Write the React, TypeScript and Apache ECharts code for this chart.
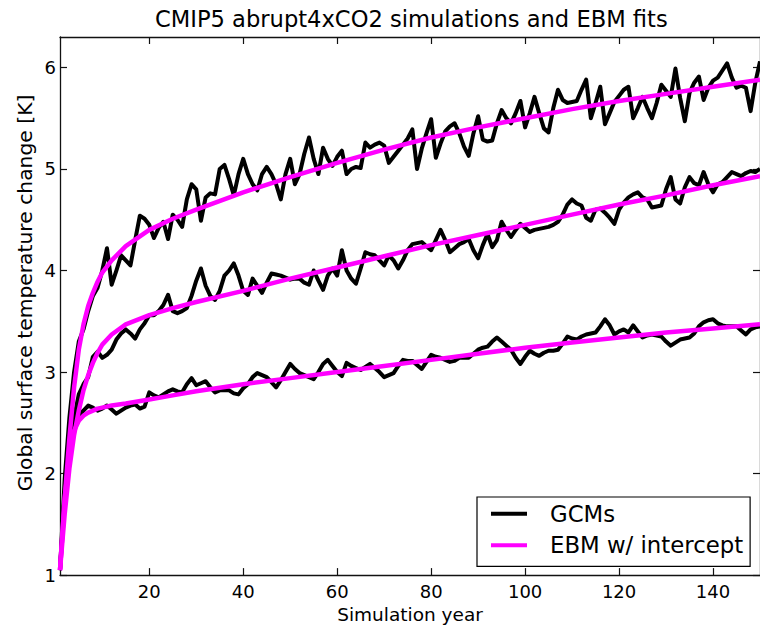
import React, { useEffect, useRef } from "react";
import * as echarts from "echarts";

const TITLE = "CMIP5 abrupt4xCO2 simulations and EBM fits";
const X_NAME = "Simulation year";
const Y_NAME = "Global surface temperature change [K]";
const X_TICKS = [20, 40, 60, 80, 100, 120, 140];
const Y_TICKS = [1, 2, 3, 4, 5, 6];

// GCM annual values, years 1..150
const gcmHigh = [
  1.05, 1.95, 2.55, 3.0, 3.3, 3.42, 3.6, 3.75, 3.83, 4.0,
  4.22, 3.86, 4.0, 4.15, 4.1, 4.05, 4.3, 4.54, 4.51, 4.45,
  4.32, 4.42, 4.48, 4.31, 4.55, 4.5, 4.43, 4.7, 4.85, 4.8,
  4.49, 4.72, 4.76, 4.75, 5.0, 5.04, 4.9, 4.74, 4.95, 5.1,
  4.95, 4.85, 4.79, 4.95, 5.02, 4.95, 4.85, 4.7, 4.95, 5.1,
  4.85, 4.95, 5.15, 5.31, 5.1, 4.95, 5.21, 5.1, 5.03, 5.12,
  5.18, 4.95, 5.0, 5.02, 5.01, 5.26, 5.21, 5.24, 5.26, 5.23,
  5.06, 5.12, 5.18, 5.24, 5.3, 5.39, 5.0, 5.2, 5.35, 5.49,
  5.11, 5.25, 5.37, 5.42, 5.45, 5.35, 5.22, 5.13, 5.35, 5.52,
  5.29, 5.27, 5.28, 5.45, 5.58, 5.5, 5.45, 5.55, 5.67, 5.41,
  5.55, 5.71, 5.55, 5.4, 5.36, 5.6, 5.78, 5.68, 5.65, 5.66,
  5.67, 5.78, 5.88, 5.5, 5.65, 5.81, 5.44, 5.55, 5.66, 5.72,
  5.78, 5.81, 5.5, 5.6, 5.71, 5.6, 5.5, 5.65, 5.83, 5.77,
  5.71, 5.99, 5.7, 5.47, 5.75, 5.85, 5.91, 5.68, 5.8, 5.87,
  5.9, 5.97, 6.04, 5.9, 5.8, 5.82, 5.8, 5.57, 5.85, 6.06,
];
const gcmMid = [
  1.05, 1.75, 2.2, 2.55, 2.78, 2.88, 2.95, 3.15, 3.2, 3.14,
  3.17, 3.22, 3.32, 3.38, 3.42, 3.38, 3.33, 3.42, 3.48, 3.56,
  3.56, 3.6, 3.66, 3.76, 3.6, 3.58, 3.6, 3.63, 3.75, 3.9,
  4.02, 3.85, 3.75, 3.71, 3.8, 3.95, 4.0, 4.07, 3.95, 3.8,
  3.76, 3.92, 3.85, 3.78, 3.88, 3.97, 3.96, 3.95, 3.93, 3.91,
  3.92, 3.92, 3.88, 3.86, 4.0, 3.9, 3.81, 3.95, 4.02, 3.95,
  4.2, 4.0, 3.92, 3.87, 4.02, 4.18, 4.16, 4.15, 4.1, 4.05,
  4.15, 4.1, 4.02, 4.1, 4.2, 4.26, 4.27, 4.28, 4.24, 4.2,
  4.3, 4.4, 4.3, 4.18, 4.22, 4.26, 4.28, 4.31, 4.2, 4.12,
  4.25, 4.36, 4.23, 4.3, 4.48, 4.4, 4.33, 4.4, 4.46, 4.42,
  4.38, 4.4, 4.41, 4.42, 4.43, 4.45, 4.48, 4.55, 4.65, 4.7,
  4.66, 4.64, 4.52, 4.49, 4.6, 4.61, 4.57, 4.52, 4.46, 4.6,
  4.67, 4.72, 4.75, 4.77, 4.72, 4.7, 4.62, 4.63, 4.64, 4.8,
  4.92, 4.7, 4.66, 4.82, 4.92, 4.86, 4.84, 4.97, 4.85, 4.77,
  4.85, 4.87, 4.92, 4.97, 4.95, 4.93, 4.96, 4.98, 4.97, 5.0,
];
const gcmLow = [
  1.05, 1.8, 2.25, 2.45, 2.58, 2.62, 2.67, 2.65, 2.62, 2.64,
  2.67, 2.63, 2.59, 2.62, 2.65, 2.67, 2.68, 2.64, 2.66, 2.8,
  2.77, 2.75, 2.78, 2.81, 2.83, 2.81, 2.8, 2.88, 2.94, 2.87,
  2.89, 2.91, 2.85, 2.8, 2.82, 2.82, 2.82, 2.79, 2.78, 2.84,
  2.88, 2.95, 2.99, 2.97, 2.95, 2.9, 2.85, 2.92, 3.0, 3.08,
  3.03, 2.99, 2.97, 2.95, 2.93, 3.0, 3.08, 3.12, 3.06, 3.0,
  2.96, 3.09, 3.06, 3.04, 3.02, 3.05, 3.08, 3.04, 3.0, 2.95,
  2.97, 2.99, 3.06, 3.12, 3.11, 3.11, 3.07, 3.03, 3.1, 3.17,
  3.15, 3.14, 3.12, 3.1, 3.11, 3.14, 3.14, 3.14, 3.18, 3.22,
  3.24, 3.25, 3.3, 3.34, 3.3, 3.26, 3.22, 3.14, 3.08, 3.15,
  3.21, 3.18, 3.16, 3.19, 3.21, 3.21, 3.22, 3.28, 3.35, 3.33,
  3.32, 3.35, 3.37, 3.38, 3.39, 3.45, 3.52, 3.46, 3.37, 3.4,
  3.42, 3.39, 3.46, 3.4, 3.34, 3.36, 3.37, 3.36, 3.35, 3.3,
  3.26, 3.29, 3.32, 3.33, 3.34, 3.38, 3.45, 3.49, 3.51, 3.52,
  3.48, 3.46, 3.45, 3.45, 3.45, 3.41, 3.37, 3.42, 3.44, 3.45,
];

// EBM fit curves read at these years
const fitYears = [1, 2, 3, 4, 5, 6, 7, 8, 9, 10, 12, 15, 20, 25, 30, 40, 50, 60, 70, 80, 90, 100, 110, 120, 130, 140, 150];
const fitHigh = [1.05, 1.75, 2.35, 2.85, 3.22, 3.47, 3.65, 3.78, 3.89, 3.98, 4.1, 4.24, 4.4, 4.51, 4.6, 4.77, 4.92, 5.06, 5.19, 5.31, 5.41, 5.5, 5.59, 5.67, 5.74, 5.81, 5.88];
const fitMid = [1.05, 1.6, 2.05, 2.38, 2.62, 2.82, 2.97, 3.09, 3.19, 3.27, 3.37, 3.47, 3.56, 3.63, 3.69, 3.8, 3.92, 4.03, 4.14, 4.25, 4.35, 4.45, 4.55, 4.65, 4.74, 4.84, 4.93];
const fitLow = [1.05, 1.75, 2.2, 2.42, 2.52, 2.57, 2.6, 2.62, 2.64, 2.65, 2.67, 2.69, 2.73, 2.77, 2.81, 2.88, 2.94, 3.0, 3.06, 3.12, 3.18, 3.24, 3.29, 3.34, 3.39, 3.43, 3.47];

const GCM_NAME = "GCMs";
const EBM_NAME = "EBM w/ intercept";
const FONT = "DejaVu Sans";

export default function App() {
  const ref = useRef<HTMLDivElement>(null);
  useEffect(() => {
    if (!ref.current) return;
    const chart = echarts.init(ref.current, undefined, { renderer: "svg" });
    const gcmSeries = [gcmHigh, gcmMid, gcmLow].map((vals) => ({
      type: "line",
      name: GCM_NAME,
      data: vals.map((v, i) => [i + 1, v]),
      showSymbol: false,
      symbol: "none",
      color: "#000000",
      lineStyle: { color: "#000000", width: 4, join: "round" },
      z: 2,
    }));
    const fitSeries = [fitHigh, fitMid, fitLow].map((vals) => ({
      type: "line",
      name: EBM_NAME,
      data: vals.map((v, i) => [fitYears[i], v]),
      showSymbol: false,
      symbol: "none",
      smooth: false,
      color: "#ff00ff",
      lineStyle: { color: "#ff00ff", width: 4.5, join: "round" },
      z: 3,
    }));
    const axisLine = { show: true, onZero: false, lineStyle: { color: "#111", width: 1.3 } };
    const tick = (vals: number[]) => ({ show: true, inside: true, length: 7, customValues: vals, lineStyle: { color: "#111", width: 1.2 } });
    chart.setOption({
      animation: false,
      backgroundColor: "#ffffff",
      title: {
        text: TITLE,
        left: 155,
        top: 7,
        padding: 0,
        textStyle: { fontFamily: FONT, fontSize: 22.6, fontWeight: "normal", color: "#000" },
      },
      grid: { left: 60, top: 37, width: 701, height: 542.5, containLabel: false },
      legend: {
        orient: "vertical",
        left: 477,
        top: 497,
        data: [GCM_NAME, EBM_NAME],
        icon: "rect",
        itemWidth: 36,
        itemHeight: 4,
        itemGap: 8.4,
        padding: [5.3, 7, 9.6, 14],
        borderColor: "#000",
        borderWidth: 1.2,
        borderRadius: 0,
        backgroundColor: "#fff",
        textStyle: { fontFamily: FONT, fontSize: 22.8, color: "#000", padding: [0, 0, 0, 18] },
      },
      xAxis: [
        {
          type: "value",
          min: 1,
          max: 150,
          position: "bottom",
          axisLine,
          axisTick: tick(X_TICKS),
          axisLabel: { customValues: X_TICKS, fontFamily: FONT, fontSize: 18, color: "#000", margin: 7 },
          splitLine: { show: false },
          name: X_NAME,
          nameLocation: "middle",
          nameGap: 25,
          nameTextStyle: { fontFamily: FONT, fontSize: 18.5, color: "#000" },
        },
        {
          type: "value",
          min: 1,
          max: 150,
          position: "top",
          axisLine,
          axisTick: tick(X_TICKS),
          axisLabel: { show: false, customValues: X_TICKS },
          splitLine: { show: false },
        },
      ],
      yAxis: [
        {
          type: "value",
          min: 1,
          max: 6.3,
          position: "left",
          axisLine,
          axisTick: tick(Y_TICKS),
          axisLabel: { customValues: Y_TICKS, fontFamily: FONT, fontSize: 18, color: "#000", margin: 4 },
          splitLine: { show: false },
        },
        {
          type: "value",
          min: 1,
          max: 6.3,
          position: "right",
          axisLine,
          axisTick: tick(Y_TICKS),
          axisLabel: { show: false, customValues: Y_TICKS },
          splitLine: { show: false },
        },
      ],
      graphic: [
        {
          type: "text",
          x: 25,
          y: 293,
          rotation: Math.PI / 2,
          style: {
            text: Y_NAME,
            fontFamily: FONT,
            fontSize: 20.3,
            fill: "#000",
            textAlign: "center",
            textVerticalAlign: "middle",
          },
        },
      ],
      series: [...gcmSeries, ...fitSeries],
    });
    return () => chart.dispose();
  }, []);
  return (
    <div
      ref={ref}
      style={{ position: "fixed", left: 0, top: 0, width: 760, height: 629, background: "#fff" }}
    />
  );
}
